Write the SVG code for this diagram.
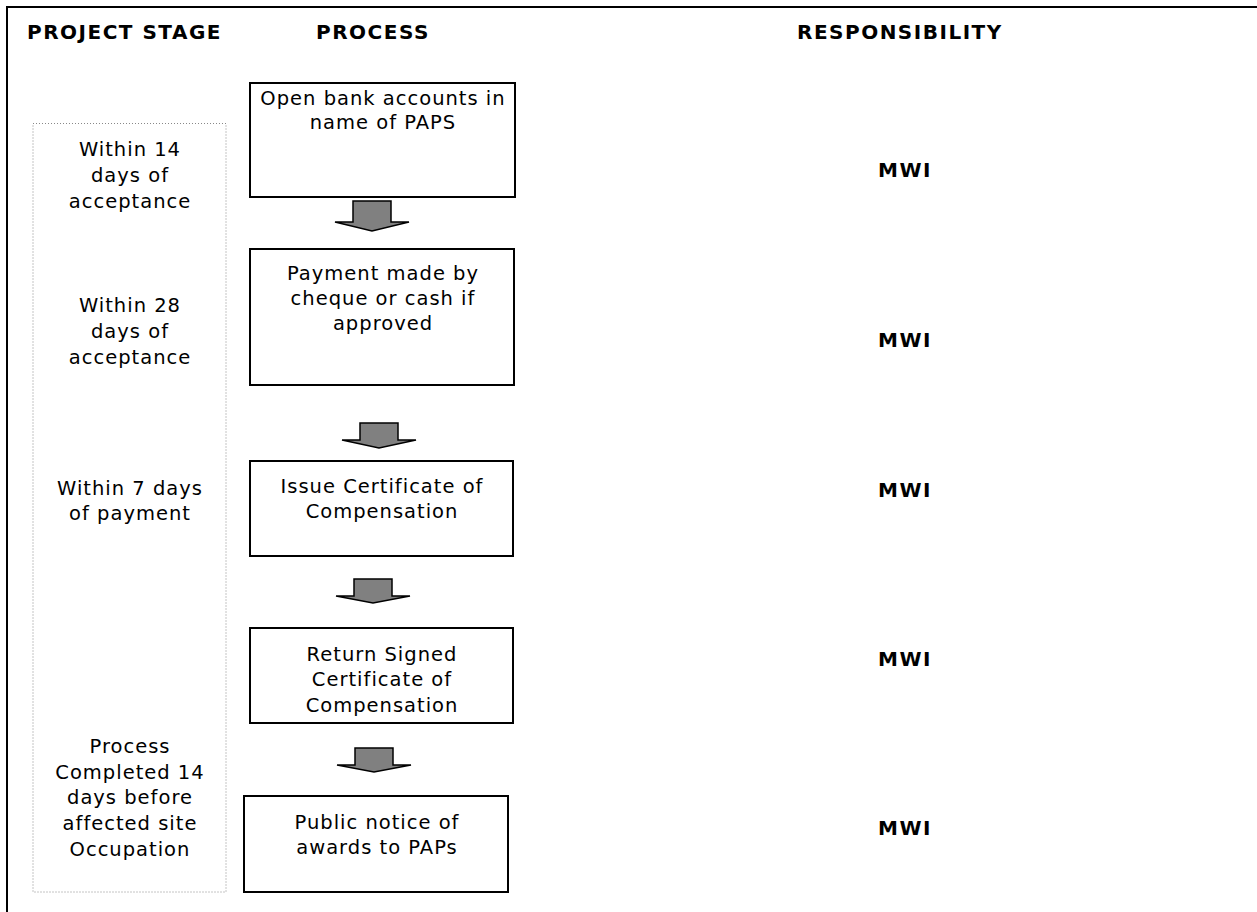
<svg xmlns="http://www.w3.org/2000/svg" width="1257" height="912" viewBox="0 0 1257 912">
<style>
.hdr{font-family:"DejaVu Sans",Verdana,sans-serif;font-weight:bold;font-size:20px;letter-spacing:1.5px;fill:#000}
.t{font-family:"DejaVu Sans",Verdana,sans-serif;font-size:19.5px;letter-spacing:1px;fill:#000;text-anchor:middle}
.resp{font-family:"DejaVu Sans",Verdana,sans-serif;font-weight:bold;font-size:20px;letter-spacing:1.5px;fill:#000}
.box{fill:#fff;stroke:#000;stroke-width:2}
.arr{fill:#808080;stroke:#000;stroke-width:1.5;stroke-linejoin:miter}
</style>
<rect width="1257" height="912" fill="#fff"/>
<path d="M7 912 V7 H1257" fill="none" stroke="#000" stroke-width="2"/>
<g id="headers">
<text class="hdr" x="27" y="39">PROJECT STAGE</text>
<text class="hdr" x="316" y="39">PROCESS</text>
<text class="hdr" x="797" y="39">RESPONSIBILITY</text>
</g>
<g id="stage">
<rect x="33" y="123.5" width="193" height="768.5" fill="none" stroke="#888" stroke-width="1" stroke-dasharray="1,2"/>
<text class="t" x="130"><tspan x="130" y="156">Within 14</tspan><tspan x="130" y="182">days of</tspan><tspan x="130" y="208">acceptance</tspan></text>
<text class="t" x="130"><tspan x="130" y="312">Within 28</tspan><tspan x="130" y="338">days of</tspan><tspan x="130" y="364">acceptance</tspan></text>
<text class="t" x="130"><tspan x="130" y="495">Within 7 days</tspan><tspan x="130" y="520">of payment</tspan></text>
<text class="t" x="130"><tspan x="130" y="753">Process</tspan><tspan x="130" y="779">Completed 14</tspan><tspan x="130" y="804">days before</tspan><tspan x="130" y="830">affected site</tspan><tspan x="130" y="856">Occupation</tspan></text>
</g>
<g id="node1">
<rect class="box" x="250" y="83" width="265" height="114"/>
<text class="t"><tspan x="383" y="105">Open bank accounts in</tspan><tspan x="383" y="129">name of PAPS</tspan></text>
</g>
<g id="node2">
<rect class="box" x="250" y="249" width="264" height="136"/>
<text class="t"><tspan x="383" y="280">Payment made by</tspan><tspan x="383" y="305">cheque or cash if</tspan><tspan x="383" y="330">approved</tspan></text>
</g>
<g id="node3">
<rect class="box" x="250" y="461" width="263" height="95"/>
<text class="t"><tspan x="382" y="493">Issue Certificate of</tspan><tspan x="382" y="518">Compensation</tspan></text>
</g>
<g id="node4">
<rect class="box" x="250" y="628" width="263" height="95"/>
<text class="t"><tspan x="382" y="661">Return Signed</tspan><tspan x="382" y="686">Certificate of</tspan><tspan x="382" y="712">Compensation</tspan></text>
</g>
<g id="node5">
<rect class="box" x="244" y="796" width="264" height="96"/>
<text class="t"><tspan x="377" y="829">Public notice of</tspan><tspan x="377" y="854">awards to PAPs</tspan></text>
</g>
<g id="responsibility">
<text class="resp" x="878" y="177">MWI</text>
<text class="resp" x="878" y="347">MWI</text>
<text class="resp" x="878" y="497">MWI</text>
<text class="resp" x="878" y="666">MWI</text>
<text class="resp" x="878" y="835">MWI</text>
</g>
<g id="connectors">
<polygon class="arr" points="353,201 391,201 391,222 409,222 372,231 335,222 353,222"/>
<polygon class="arr" points="360,423 398,423 398,440 416,440 379,448 342,440 360,440"/>
<polygon class="arr" points="354,579 392,579 392,596 410,596 373,603 336,596 354,596"/>
<polygon class="arr" points="355,748 393,748 393,765 411,765 374,772 337,765 355,765"/>
</g>
</svg>
